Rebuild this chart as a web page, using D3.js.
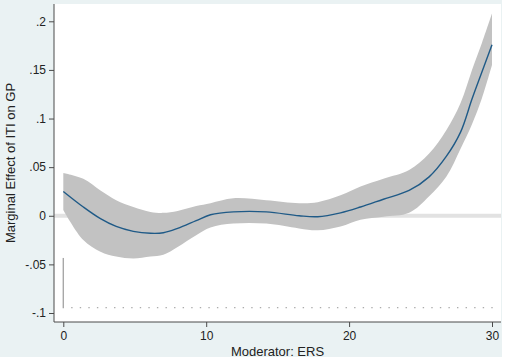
<!DOCTYPE html>
<html>

<head>
    <title>MarginalEffect</title>
    <script src="https://cdn.jsdelivr.net/npm/d3@7/dist/d3.min.js"></script>
    <style>
        body { margin: 0; background: #ffffff; }
        text { font-family: 'Liberation Sans', Arial, sans-serif; }
    </style>
</head>

<body>
    <svg width="505" height="360" id="mainsvg"></svg>
    <script>
        const moderator = [0, 1.4, 2.6, 3.7, 4.9, 6.1, 7.0, 8.0, 9.3, 10.3, 11.9, 14.2, 16.5, 17.8,
            19.4, 20.8, 22.4, 24.2, 25.6, 26.8, 27.8, 28.6, 29.3, 30];
        const effect = [0.025, 0.009, -0.003, -0.011, -0.016, -0.018, -0.0175, -0.013, -0.005, 0.001, 0.004,
            0.004, 0.000, -0.001, 0.003, 0.009, 0.017, 0.026, 0.040, 0.061, 0.086, 0.120, 0.148, 0.176];
        const ciUpper = [0.044, 0.038, 0.026, 0.016, 0.009, 0.004, 0.003, 0.005, 0.010, 0.013, 0.018,
            0.016, 0.013, 0.014, 0.021, 0.030, 0.038, 0.047, 0.064, 0.088, 0.116, 0.150, 0.178, 0.208];
        const ciLower = [0.006, -0.025, -0.037, -0.042, -0.044, -0.042, -0.040, -0.032, -0.020, -0.012, -0.008,
            -0.008, -0.013, -0.015, -0.011, -0.004, -0.001, 0.003, 0.020, 0.040, 0.069, 0.094, 0.121, 0.155];

        // distribution of the moderator, drawn as spikes every 0.6 from the base line
        const histBins = [0, 0.6, 1.2, 1.8, 2.4, 3, 3.6, 4.2, 4.8, 5.4, 6, 6.6, 7.2, 7.8, 8.4, 9, 9.6,
            10.2, 10.8, 11.4, 12, 12.6, 13.2, 13.8, 14.4, 15, 15.6, 16.2, 16.8, 17.4, 18, 18.6, 19.2, 19.8,
            20.4, 21, 21.6, 22.2, 22.8, 23.4, 24, 24.6, 25.2, 25.8, 26.4, 27, 27.6, 28.2, 28.8, 29.4, 30];
        const histHeight = [0.0505, 0, 0, 0, 0, 0, 0, 0, 0, 0, 0, 0, 0, 0, 0, 0, 0,
            0, 0, 0, 0, 0, 0, 0, 0, 0, 0, 0, 0, 0, 0, 0, 0, 0,
            0, 0, 0, 0, 0, 0, 0, 0, 0, 0, 0, 0, 0, 0, 0, 0, 0];
        const histBase = -0.0945;

        const xTicks = [0, 10, 20, 30];
        const yTicks = [-0.1, -0.05, 0, 0.05, 0.1, 0.15, 0.2];
        const yTickLabels = ['-.1', '-.05', '0', '.05', '.1', '.15', '.2'];
        const xAxisLabel = 'Moderator: ERS';
        const yAxisLabel = 'Marginal Effect of ITI on GP';

        const svg = d3.select('#mainsvg');
        const plot = { left: 54, right: 501, top: 4, bottom: 322 };

        const xScale = d3.scaleLinear().domain([0, 30]).range([63.3, 492]);
        const yScale = d3.scaleLinear().domain([-0.1, 0.2]).range([313, 21.3]);

        // graph region + plot region
        svg.append('rect').attr('width', 502).attr('height', 357).attr('fill', '#eaf2f3');
        svg.append('rect')
            .attr('x', plot.left).attr('y', plot.top)
            .attr('width', plot.right - plot.left).attr('height', plot.bottom - plot.top)
            .attr('fill', '#ffffff');

        const data = moderator.map((m, i) => ({ m: m, e: effect[i], lo: ciLower[i], hi: ciUpper[i] }));

        // zero reference line
        svg.append('line')
            .attr('x1', plot.left).attr('x2', plot.right)
            .attr('y1', yScale(0)).attr('y2', yScale(0))
            .attr('stroke', '#e2e2e2').attr('stroke-width', 4);

        const band = d3.area()
            .x(d => xScale(d.m))
            .y0(d => yScale(d.lo))
            .y1(d => yScale(d.hi))
            .curve(d3.curveCatmullRom.alpha(0.5));
        svg.append('path').datum(data)
            .attr('d', band)
            .attr('fill', '#c2c2c2');

        const line = d3.line()
            .x(d => xScale(d.m))
            .y(d => yScale(d.e))
            .curve(d3.curveCatmullRom.alpha(0.5));
        svg.append('path').datum(data)
            .attr('d', line)
            .attr('fill', 'none')
            .attr('stroke', '#1f5a87')
            .attr('stroke-width', 1.4);

        // histogram spikes (zero-height ones show up as dots)
        const hist = histBins.map((b, i) => ({ b: b, h: histHeight[i] }));
        svg.selectAll('.spike').data(hist).join('rect')
            .attr('class', 'spike')
            .attr('x', d => xScale(d.b) - 0.7)
            .attr('y', d => yScale(histBase + d.h) - 0.6)
            .attr('width', 1.4)
            .attr('height', d => yScale(histBase) - yScale(histBase + d.h) + 1.2)
            .attr('fill', '#a8a8a8');

        // axes
        const yAxis = d3.axisLeft(yScale)
            .tickValues(yTicks)
            .tickFormat((d, i) => yTickLabels[i])
            .tickSize(5)
            .tickSizeOuter(0)
            .tickPadding(3);
        const yAxisGroup = svg.append('g').call(yAxis)
            .attr('transform', `translate(${plot.left}, 0)`);
        yAxisGroup.select('.domain')
            .attr('d', `M0,${plot.top}V${plot.bottom}`);

        const xAxis = d3.axisBottom(xScale)
            .tickValues(xTicks)
            .tickSize(5)
            .tickSizeOuter(0)
            .tickPadding(4);
        const xAxisGroup = svg.append('g').call(xAxis)
            .attr('transform', `translate(0, ${plot.bottom})`);
        xAxisGroup.select('.domain')
            .attr('d', `M${plot.left},0H${plot.right}`);

        svg.selectAll('.domain, .tick line').attr('stroke', '#4a4a4a').attr('stroke-width', 1);
        svg.selectAll('.tick text')
            .attr('font-size', '12px')
            .attr('font-family', "'Liberation Sans', Arial, sans-serif")
            .attr('fill', '#222');

        svg.append('text')
            .attr('x', (plot.left + plot.right) / 2)
            .attr('y', 356)
            .attr('text-anchor', 'middle')
            .attr('font-size', '13px')
            .attr('fill', '#222')
            .text(xAxisLabel);

        svg.append('text')
            .attr('transform', `translate(15, ${(plot.top + plot.bottom) / 2}) rotate(-90)`)
            .attr('text-anchor', 'middle')
            .attr('font-size', '13px')
            .attr('fill', '#222')
            .text(yAxisLabel);
    </script>
</body>

</html>
